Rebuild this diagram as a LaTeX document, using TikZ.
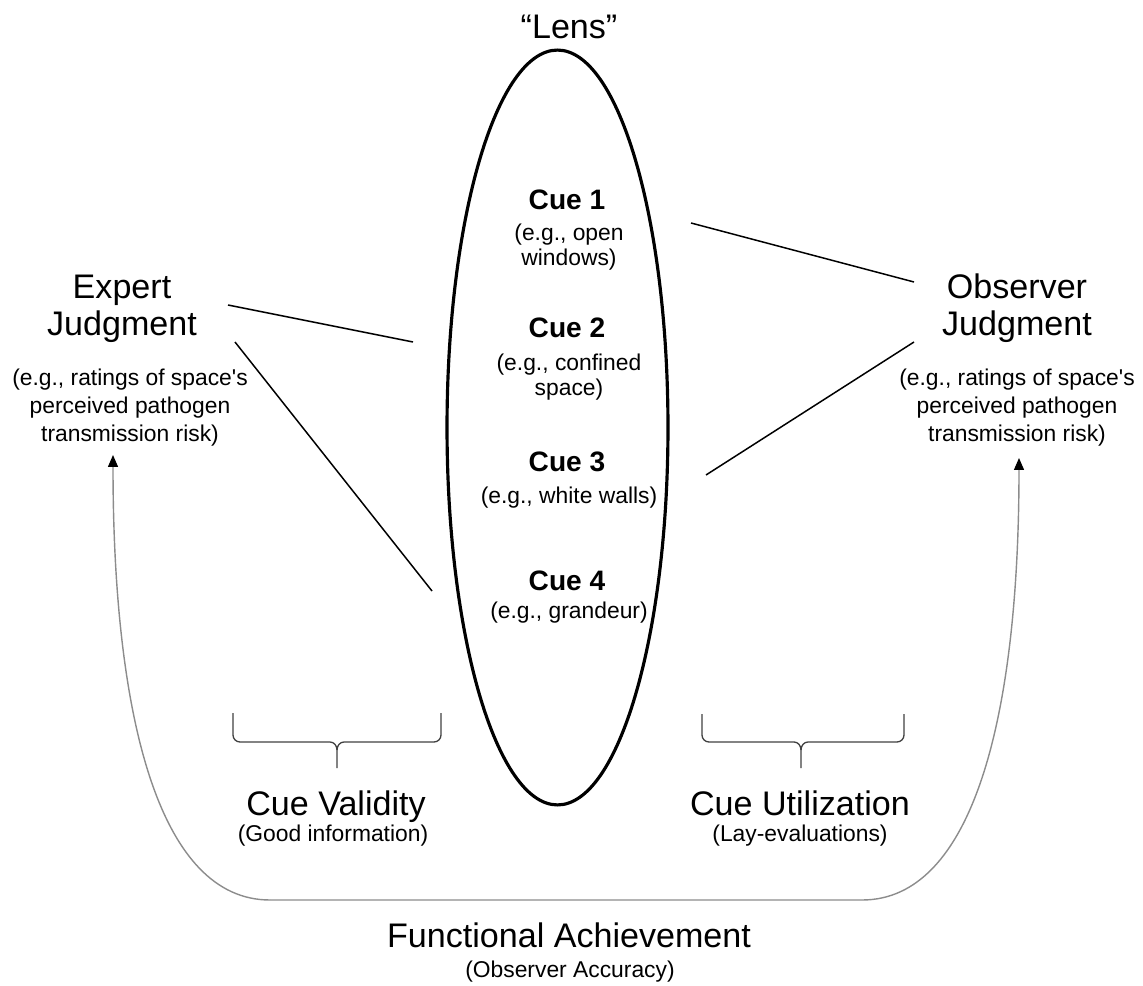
\documentclass[tikz,border=0pt]{standalone}
\usepackage{fontspec}
\setmainfont{Liberation Sans}
\usetikzlibrary{arrows.meta}
\begin{document}
\begin{tikzpicture}[x=0.02cm,y=-0.02cm,
  big/.style={font=\fontsize{19.4}{21.6}\selectfont, inner sep=0pt, align=center, anchor=base},
  small/.style={font=\fontsize{13}{15.9}\selectfont, inner sep=0pt, align=center, anchor=base},
  cuesub/.style={font=\fontsize{13}{14.6}\selectfont, inner sep=0pt, align=center, anchor=base},
  cuetitle/.style={font=\fontsize{16}{18}\selectfont\bfseries, inner sep=0pt, anchor=base},
  link/.style={draw=black, line width=0.85pt},
  bracestyle/.style={draw=black!75, line width=0.75pt},
  achieve/.style={draw=black!45, line width=0.8pt, -{Triangle[width=0.2cm,length=0.24cm,black]}},
  lensline/.style={draw=black, line width=1.8pt}
]
\useasboundingbox (0,0) rectangle (1143,986);

% lens
\node[big] (lens) at (569,39) {“Lens”};
\draw[lensline] (557.5,427.5) ellipse [x radius=2.21cm, y radius=7.55cm];

% cues (multi-line nodes: base = last line)
\node[cuetitle] (cue1) at (567,210) {Cue 1};
\node[cuesub] (cue1sub) at (569,266) {(e.g., open\\windows)};
\node[cuetitle] (cue2) at (567,338) {Cue 2};
\node[cuesub] (cue2sub) at (569,396) {(e.g., confined\\space)};
\node[cuetitle] (cue3) at (567,472) {Cue 3};
\node[cuesub] (cue3sub) at (569,503) {(e.g., white walls)};
\node[cuetitle] (cue4) at (567,590) {Cue 4};
\node[cuesub] (cue4sub) at (569,618) {(e.g., grandeur)};

% judgments
\node[big] (expert) at (122,336) {Expert\\Judgment};
\node[small] (expertsub) at (130,441) {(e.g., ratings of space\textquotesingle s\\perceived pathogen\\transmission risk)};
\node[big] (observer) at (1017,336) {Observer\\Judgment};
\node[small] (observersub) at (1017,441) {(e.g., ratings of space\textquotesingle s\\perceived pathogen\\transmission risk)};

% connector end points
\coordinate (ea) at (228,305);
\coordinate (eb) at (235,342);
\coordinate (c2l) at (413,342);
\coordinate (c4l) at (432,591);
\coordinate (oa) at (914,282);
\coordinate (ob) at (914,342);
\coordinate (c1r) at (691,223);
\coordinate (c3r) at (706,475);
\draw[link] (ea) -- (c2l);
\draw[link] (eb) -- (c4l);
\draw[link] (c1r) -- (oa);
\draw[link] (c3r) -- (ob);

% braces
\coordinate (lbL) at (233,713);
\coordinate (lbR) at (441,713);
\coordinate (lbT) at (337,768);
\draw[bracestyle] (lbL) -- (233,735) to[out=-90,in=180] (240,742) -- (330,742) to[out=0,in=90] (337,750) -- (lbT);
\draw[bracestyle] (lbR) -- (441,735) to[out=-90,in=0] (434,742) -- (344,742) to[out=180,in=90] (337,750);
\coordinate (rbL) at (702,714);
\coordinate (rbR) at (904,714);
\coordinate (rbT) at (801,768);
\draw[bracestyle] (rbL) -- (702,735) to[out=-90,in=180] (709,742) -- (794,742) to[out=0,in=90] (801,750) -- (rbT);
\draw[bracestyle] (rbR) -- (904,735) to[out=-90,in=0] (897,742) -- (808,742) to[out=180,in=90] (801,750);

\node[big] (validity) at (336,815) {Cue Validity};
\node[small] (validitysub) at (333,841) {(Good information)};
\node[big] (utilization) at (800,815) {Cue Utilization};
\node[small] (utilizationsub) at (800,841) {(Lay-evaluations)};

% functional achievement
\coordinate (arrL) at (113,455);
\coordinate (arrR) at (1019,458);
\coordinate (botL) at (270,900);
\coordinate (botR) at (862,900);
\draw[achieve] (botL) .. controls (160,900) and (113,720) .. (arrL);
\draw[achieve] (botL) -- (botR) .. controls (972,900) and (1019,720) .. (arrR);

\node[big] (functional) at (569,947) {Functional Achievement};
\node[small] (functionalsub) at (570,977) {(Observer Accuracy)};
\end{tikzpicture}
\end{document}
